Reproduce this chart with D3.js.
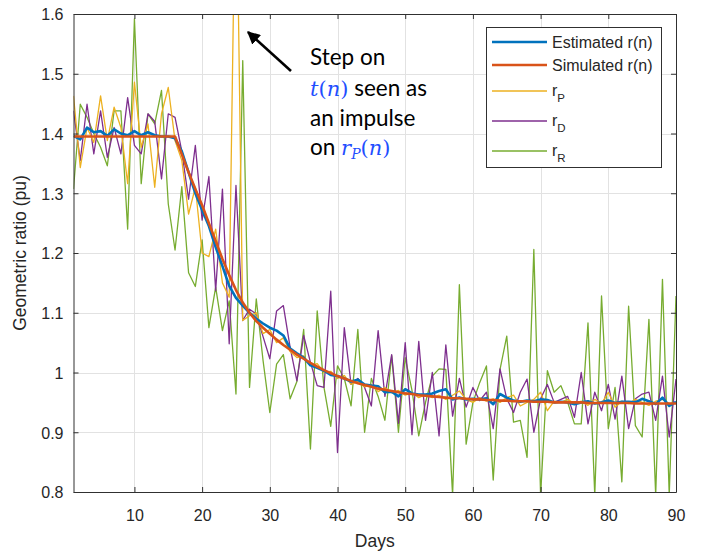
<!DOCTYPE html>
<html><head><meta charset="utf-8">
<script src="https://cdn.jsdelivr.net/npm/d3@7"></script>
<style>body{margin:0;background:#fff}svg{display:block}</style>
</head><body>
<svg id="c" width="703" height="552"></svg>
<script>
const days = d3.range(1, 91);
const xTicks = [10, 20, 30, 40, 50, 60, 70, 80, 90];
const yTicks = [0.8, 0.9, 1, 1.1, 1.2, 1.3, 1.4, 1.5, 1.6];

const simulated = [
1.395,1.395,1.395,1.395,1.395,1.395,1.395,1.395,1.395,1.395,
1.395,1.395,1.395,1.395,1.395,1.395,1.365,1.335,1.307,1.280,
1.250,1.220,1.190,1.163,1.138,1.117,1.100,1.086,1.075,1.065,
1.055,1.046,1.038,1.030,1.023,1.016,1.010,1.004,0.999,0.994,
0.990,0.986,0.982,0.979,0.976,0.973,0.971,0.969,0.967,0.965,
0.964,0.962,0.961,0.960,0.959,0.958,0.957,0.957,0.956,0.955,
0.955,0.954,0.954,0.953,0.953,0.952,0.952,0.952,0.951,0.951,
0.951,0.950,0.950,0.950,0.950,0.950,0.949,0.949,0.949,0.949,
0.949,0.949,0.949,0.948,0.948,0.948,0.948,0.948,0.948,0.948];

const estimated = [
1.396,1.390,1.410,1.402,1.404,1.396,1.407,1.400,1.397,1.404,
1.397,1.402,1.397,1.395,1.395,1.392,1.370,1.335,1.300,1.272,
1.245,1.210,1.178,1.145,1.125,1.112,1.100,1.090,1.082,1.075,
1.070,1.062,1.040,1.032,1.025,1.012,1.008,1.003,0.996,0.994,
0.990,0.985,0.988,0.980,0.978,0.977,0.967,0.968,0.960,0.972,
0.965,0.963,0.963,0.965,0.969,0.972,0.955,0.958,0.955,0.956,
0.955,0.957,0.947,0.964,0.958,0.953,0.951,0.953,0.952,0.955,
0.954,0.950,0.951,0.950,0.947,0.950,0.952,0.948,0.950,0.953,
0.949,0.951,0.951,0.950,0.956,0.952,0.947,0.958,0.944,0.951];

const rP = [
1.463,1.343,1.410,1.385,1.463,1.388,1.444,1.410,1.316,1.486,
1.377,1.416,1.310,1.433,1.477,1.388,1.355,1.265,1.310,1.200,
1.194,1.240,1.150,1.126,1.900,1.087,1.095,1.100,1.065,1.072,
1.050,1.058,1.035,1.025,1.028,1.012,1.015,1.000,1.002,0.990,
0.995,0.980,0.985,0.976,0.980,0.968,0.975,0.966,0.970,0.962,
0.966,0.958,0.963,0.958,0.962,0.955,0.962,0.969,0.955,0.950,
0.958,0.952,0.956,0.950,0.958,0.962,0.944,0.950,0.955,0.967,
0.936,0.952,0.950,0.955,0.948,0.952,0.945,0.955,0.948,0.967,
0.942,0.952,0.948,0.955,0.950,0.945,0.952,0.955,0.948,0.950];

const rD = [
1.438,1.355,1.449,1.366,1.438,1.360,1.410,1.366,1.460,1.380,
1.366,1.433,1.420,1.324,1.433,1.427,1.370,1.290,1.380,1.255,
1.328,1.137,1.307,1.048,1.313,1.087,1.106,1.098,1.060,1.023,
1.103,1.112,1.042,0.986,1.062,1.017,0.978,0.975,1.136,0.866,
1.075,0.980,0.990,0.975,0.944,1.070,0.960,1.030,0.915,1.050,
0.896,1.052,0.920,1.000,0.894,1.046,0.927,0.990,0.942,0.975,
0.953,0.967,0.906,1.006,0.956,0.933,0.967,0.989,0.900,0.956,
0.980,0.950,0.955,0.960,0.925,1.000,0.914,0.967,0.936,0.980,
0.922,0.994,0.906,0.956,0.964,0.967,0.920,0.994,0.892,0.989];

const rR = [
1.307,1.449,1.427,1.400,1.377,1.346,1.438,1.438,1.240,1.592,
1.316,1.433,1.416,1.472,1.282,1.205,1.311,1.167,1.144,1.222,
1.075,1.143,1.070,1.120,0.964,1.522,0.975,1.123,1.020,0.933,
1.014,1.030,0.956,0.985,1.072,0.872,1.103,0.975,0.910,1.011,
0.990,0.944,1.072,0.900,0.990,0.960,0.920,1.028,0.900,1.025,
0.970,0.894,0.950,0.994,1.006,1.005,0.795,1.147,0.880,0.950,
0.983,1.011,0.820,1.005,1.061,0.917,0.920,0.858,1.206,0.795,
1.003,0.967,0.978,0.950,0.914,0.914,1.083,0.795,1.128,0.906,
0.975,0.817,1.111,0.911,0.892,1.089,0.795,1.156,0.795,1.128];

const seriesNames = ["Estimated r(n)", "Simulated r(n)", "r", "r", "r"];
const seriesSubs = ["", "", "P", "D", "R"];
const seriesColors = ["#0072BD", "#D95319", "#EDB120", "#7E2F8E", "#77AC30"];
const seriesValues = [estimated, simulated, rP, rD, rR];

const L = 73.5, R = 676, T = 14, B = 492;
const x = d3.scaleLinear().domain([1, 90]).range([L, R]);
const y = d3.scaleLinear().domain([0.8, 1.6]).range([B, T]);

const svg = d3.select("#c");
const axisColor = "#303030";
const fontTick = "'Liberation Sans', Arial, Helvetica, sans-serif";

// grid
const grid = svg.append("g").attr("stroke", "#e2e2e2").attr("stroke-width", 1);
grid.selectAll("line.gx").data(xTicks).join("line")
  .attr("x1", d => Math.round(x(d)) + 0.5).attr("x2", d => Math.round(x(d)) + 0.5)
  .attr("y1", T).attr("y2", B);
grid.selectAll("line.gy").data(yTicks).join("line")
  .attr("y1", d => Math.round(y(d)) + 0.5).attr("y2", d => Math.round(y(d)) + 0.5)
  .attr("x1", L).attr("x2", R);

// data lines
svg.append("clipPath").attr("id", "clip").append("rect")
  .attr("x", L).attr("y", T).attr("width", R - L).attr("height", B - T);
const plot = svg.append("g").attr("clip-path", "url(#clip)");
const line = d3.line().x((d, i) => x(days[i])).y(d => y(d));
const order = [4, 3, 2, 0, 1];
const widths = [2.6, 2.6, 1.3, 1.3, 1.3];
order.forEach(k => {
  plot.append("path").datum(seriesValues[k])
    .attr("d", line).attr("fill", "none")
    .attr("stroke", seriesColors[k]).attr("stroke-width", widths[k])
    .attr("stroke-linejoin", "round");
});

// axes
function styleAxis(g) {
  g.select(".domain").attr("stroke", axisColor).attr("stroke-width", 1);
  g.selectAll(".tick line").attr("stroke", axisColor);
  g.selectAll("text").attr("fill", "#262626").style("font-family", fontTick).style("font-size", "16px");
}
svg.append("g").attr("transform", `translate(0,${B})`)
  .call(d3.axisBottom(x).tickValues(xTicks).tickSizeInner(-5).tickSizeOuter(0).tickPadding(0))
  .call(styleAxis)
  .call(g => g.selectAll("text").attr("y", 29).attr("dy", null));
svg.append("g").attr("transform", `translate(0,${T})`)
  .call(d3.axisTop(x).tickValues(xTicks).tickSizeInner(-5).tickSizeOuter(0).tickFormat(""))
  .call(styleAxis);
svg.append("g").attr("transform", `translate(${L},0)`)
  .call(d3.axisLeft(y).tickValues(yTicks).tickSizeInner(-5).tickSizeOuter(0).tickPadding(10).tickFormat(d => String(d)))
  .call(styleAxis)
  .call(g => g.selectAll("text").attr("dy", "0.36em"));
svg.append("g").attr("transform", `translate(${R},0)`)
  .call(d3.axisRight(y).tickValues(yTicks).tickSizeInner(-5).tickSizeOuter(0).tickFormat(""))
  .call(styleAxis);

// axis labels
svg.append("text").attr("x", (L + R) / 2).attr("y", 547).attr("text-anchor", "middle")
  .style("font-family", fontTick).style("font-size", "17.5px").attr("fill", "#262626").text("Days");
svg.append("text").attr("transform", "translate(26,253) rotate(-90)").attr("text-anchor", "middle")
  .style("font-family", fontTick).style("font-size", "17.5px").attr("fill", "#262626").text("Geometric ratio (pu)");

// legend
const lg = svg.append("g");
lg.append("rect").attr("x", 486.5).attr("y", 27.5).attr("width", 175).attr("height", 140)
  .attr("fill", "#fff").attr("stroke", axisColor).attr("stroke-width", 1);
const legendY = [42, 65, 91, 121, 151];
seriesNames.forEach((name, i) => {
  const ly = legendY[i];
  lg.append("line").attr("x1", 492).attr("x2", 547).attr("y1", ly).attr("y2", ly)
    .attr("stroke", seriesColors[i]).attr("stroke-width", i < 2 ? 2.6 : 1.6);
  const t = lg.append("text").attr("x", 552).style("font-family", fontTick)
    .style("font-size", "16px").attr("fill", "#262626");
  if (seriesSubs[i]) {
    t.attr("y", ly + 4.5);
    t.append("tspan").text(name);
    t.append("tspan").attr("dy", 6.5).style("font-size", "11.5px").text(seriesSubs[i]);
  } else {
    t.attr("y", ly + 6).text(name);
  }
});

// annotation
const ann = svg.append("g");
const defs = svg.append("defs");
defs.append("marker").attr("id", "ah").attr("viewBox", "0 0 10 10").attr("refX", 9).attr("refY", 5)
  .attr("markerWidth", 5).attr("markerHeight", 5).attr("orient", "auto")
  .append("path").attr("d", "M0,0 L10,5 L0,10 z").attr("fill", "#000");
ann.append("line").attr("x1", 291).attr("y1", 71).attr("x2", 248).attr("y2", 32)
  .attr("stroke", "#000").attr("stroke-width", 2.6).attr("marker-end", "url(#ah)");
const fText = "Lato, 'Open Sans', sans-serif";
const fMath = "'DejaVu Serif', serif";
const blue = "#1f4eff";
const aT = (yy) => ann.append("text").attr("x", 310).attr("y", yy)
  .style("font-family", fText).style("font-size", "22.5px").attr("fill", "#000");
aT(65).text("Step on");
const l2 = aT(96);
l2.append("tspan").style("font-family", fMath).style("font-style", "italic").attr("fill", blue).style("font-size", "21px").text("t");
l2.append("tspan").style("font-family", fMath).attr("fill", blue).style("font-size", "21px").text("(");
l2.append("tspan").style("font-family", fMath).style("font-style", "italic").attr("fill", blue).style("font-size", "21px").text("n");
l2.append("tspan").style("font-family", fMath).attr("fill", blue).style("font-size", "21px").text(")");
l2.append("tspan").text(" seen as");
aT(125.5).text("an impulse");
const l4 = aT(155);
l4.append("tspan").text("on ");
l4.append("tspan").style("font-family", fMath).style("font-style", "italic").attr("fill", blue).style("font-size", "21px").text("r");
l4.append("tspan").style("font-family", fMath).style("font-style", "italic").attr("fill", blue).style("font-size", "14px").attr("dy", 4).text("P");
l4.append("tspan").style("font-family", fMath).attr("fill", blue).style("font-size", "21px").attr("dy", -4).text("(");
l4.append("tspan").style("font-family", fMath).style("font-style", "italic").attr("fill", blue).style("font-size", "21px").text("n");
l4.append("tspan").style("font-family", fMath).attr("fill", blue).style("font-size", "21px").text(")");
</script>
</body></html>
